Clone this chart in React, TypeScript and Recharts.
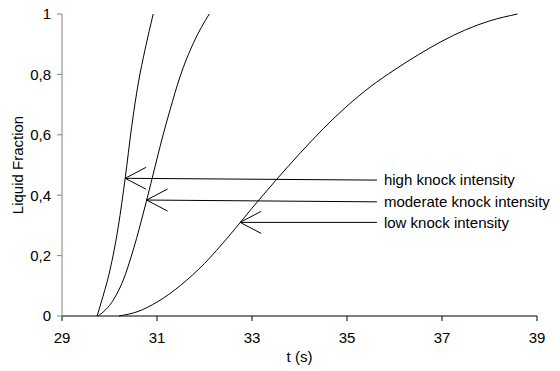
import React from "react";
import {
  LineChart,
  Line,
  XAxis,
  YAxis,
  ReferenceLine,
  ReferenceDot,
} from "recharts";

// liquid fraction vs time
const highKnock = [
  { t: 29.74, f: 0 },
  { t: 29.84, f: 0.053 },
  { t: 30.01, f: 0.152 },
  { t: 30.185, f: 0.296 },
  { t: 30.33, f: 0.456 },
  { t: 30.467, f: 0.627 },
  { t: 30.606, f: 0.771 },
  { t: 30.747, f: 0.881 },
  { t: 30.92, f: 1 },
];

const moderateKnock = [
  { t: 29.765, f: 0 },
  { t: 30.08, f: 0.053 },
  { t: 30.29, f: 0.119 },
  { t: 30.5, f: 0.219 },
  { t: 30.783, f: 0.384 },
  { t: 30.958, f: 0.494 },
  { t: 31.1, f: 0.583 },
  { t: 31.274, f: 0.682 },
  { t: 31.484, f: 0.792 },
  { t: 31.764, f: 0.903 },
  { t: 32.1, f: 1 },
];

const lowKnock = [
  { t: 30.2, f: 0 },
  { t: 30.6, f: 0.015 },
  { t: 31.0, f: 0.046 },
  { t: 31.5, f: 0.102 },
  { t: 32.0, f: 0.174 },
  { t: 32.5, f: 0.262 },
  { t: 33.0, f: 0.357 },
  { t: 33.5, f: 0.449 },
  { t: 34.0, f: 0.537 },
  { t: 34.5, f: 0.62 },
  { t: 35.0, f: 0.695 },
  { t: 35.5, f: 0.76 },
  { t: 36.0, f: 0.815 },
  { t: 36.5, f: 0.865 },
  { t: 37.0, f: 0.91 },
  { t: 37.5, f: 0.948 },
  { t: 38.0, f: 0.977 },
  { t: 38.59, f: 1 },
];

const xTicks = [29, 31, 33, 35, 37, 39];
const yTicks = [0, 0.2, 0.4, 0.6, 0.8, 1];

// arrow tip on the curve -> label on the right
const notes = [
  { label: "high knock intensity", tipT: 30.33, tipF: 0.456, endT: 35.63, endF: 0.45 },
  { label: "moderate knock intensity", tipT: 30.78, tipF: 0.384, endT: 35.63, endF: 0.378 },
  { label: "low knock intensity", tipT: 32.75, tipF: 0.31, endT: 35.63, endF: 0.31 },
];

const font = "'Liberation Sans', Arial, sans-serif";

const ArrowHead = (props: any) => {
  const { cx, cy } = props;
  return (
    <path
      d={`M${cx + 21},${cy - 11} L${cx},${cy} L${cx + 21},${cy + 11}`}
      stroke="#000"
      fill="none"
      strokeWidth={1}
    />
  );
};

const NoteText = (label: string) => (props: any) => (
  <text
    x={props.cx + 7}
    y={props.cy}
    dy="0.35em"
    fontSize={15}
    fontFamily={font}
    fill="#000"
  >
    {label}
  </text>
);

export default function App() {
  return (
    <div style={{ position: "absolute", left: 0, top: 0 }}>
      <LineChart
        width={560}
        height={371}
        margin={{ top: 14, right: 23, bottom: 5, left: 0 }}
      >
        <XAxis
          type="number"
          dataKey="t"
          domain={[29, 39]}
          ticks={xTicks}
          allowDataOverflow
          stroke="#000"
          tickSize={5}
          tickMargin={11}
          height={50}
          tick={{ fontSize: 15, fill: "#000", fontFamily: font }}
          label={{
            value: "t (s)",
            position: "insideBottom",
            offset: 4,
            fontSize: 15,
            fill: "#000",
            fontFamily: font,
          }}
        />
        <YAxis
          type="number"
          dataKey="f"
          domain={[0, 1]}
          ticks={yTicks}
          width={62}
          stroke="#808080"
          tickSize={5}
          tickMargin={6}
          tickFormatter={(v: number) => String(v).replace(".", ",")}
          tick={{ fontSize: 15, fill: "#000", fontFamily: font }}
          label={{
            value: "Liquid Fraction",
            angle: -90,
            position: "insideLeft",
            offset: 18,
            style: { textAnchor: "middle" },
            fontSize: 15,
            fill: "#000",
            fontFamily: font,
          }}
        />
        <Line
          data={highKnock}
          dataKey="f"
          type="monotone"
          stroke="#000"
          strokeWidth={1}
          dot={false}
          isAnimationActive={false}
        />
        <Line
          data={moderateKnock}
          dataKey="f"
          type="monotone"
          stroke="#000"
          strokeWidth={1}
          dot={false}
          isAnimationActive={false}
        />
        <Line
          data={lowKnock}
          dataKey="f"
          type="monotone"
          stroke="#000"
          strokeWidth={1}
          dot={false}
          isAnimationActive={false}
        />
        {notes.map((n) => (
          <ReferenceLine
            key={n.label + "-line"}
            segment={[
              { x: n.tipT, y: n.tipF },
              { x: n.endT, y: n.endF },
            ]}
            stroke="#000"
            strokeWidth={1}
          />
        ))}
        {notes.map((n) => (
          <ReferenceDot
            key={n.label + "-tip"}
            x={n.tipT}
            y={n.tipF}
            shape={ArrowHead}
          />
        ))}
        {notes.map((n) => (
          <ReferenceDot
            key={n.label + "-text"}
            x={n.endT}
            y={n.endF}
            shape={NoteText(n.label)}
          />
        ))}
      </LineChart>
    </div>
  );
}
